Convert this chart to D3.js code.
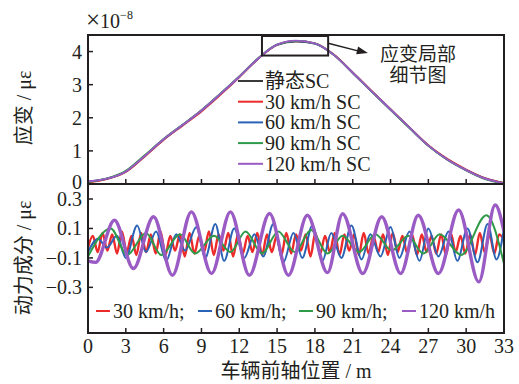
<!DOCTYPE html>
<html><head><meta charset="utf-8">
<script src="https://cdn.jsdelivr.net/npm/d3@7"></script>
<style>
body{margin:0;background:#fff}
svg{display:block}
text{fill:#231f20}
</style>
</head><body><svg id="c" width="519" height="384"></svg>
<script>
// ---- data ----
const xTicks = [0,3,6,9,12,15,18,21,24,27,30,33];
const topYTicks = [0,1,2,3,4];
const botYTicks = [0.3,0.1,-0.1,-0.3];
const botYTickLabels = ["0.3","0.1","\u22120.1","\u22120.3"];

// quasi-static strain (×10^-8) vs front-axle position
const posTop  = [0,1.5,3,4.5,6,7.5,9,10.5,12,13.5,15,16.5,18,19.5,21,22.5,24,25.5,27,28.5,30,31.5,33];
const strainStatic = [0.06,0.16,0.38,0.85,1.35,1.78,2.22,2.72,3.24,3.79,4.20,4.30,4.24,3.90,3.36,2.80,2.25,1.70,1.16,0.74,0.42,0.17,0.03];
const strain30  = [0.05,0.15,0.36,0.83,1.33,1.76,2.19,2.69,3.22,3.78,4.20,4.32,4.25,3.91,3.37,2.81,2.26,1.71,1.17,0.76,0.44,0.18,0.03];
const strain60  = [0.07,0.16,0.38,0.85,1.35,1.78,2.22,2.72,3.24,3.79,4.21,4.32,4.24,3.90,3.36,2.80,2.25,1.70,1.16,0.74,0.42,0.16,0.02];
const strain90  = [0.06,0.17,0.40,0.87,1.36,1.79,2.23,2.73,3.25,3.80,4.21,4.32,4.25,3.90,3.35,2.79,2.24,1.69,1.15,0.73,0.41,0.15,0.02];
const strain120 = [0.08,0.16,0.38,0.85,1.35,1.78,2.22,2.72,3.24,3.79,4.21,4.33,4.25,3.90,3.36,2.80,2.25,1.70,1.16,0.74,0.42,0.16,0.02];

// dynamic component (με): extrema [position m, value]
const dyn120 = [[0,-0.12],[0.6,-0.13],[2.1,0.156],[3.6,-0.172],[5.2,0.18],[6.7,-0.218],[8.2,0.213],[9.8,-0.206],[11.3,0.213],[12.8,-0.218],[14.4,0.202],[15.9,-0.218],[17.4,0.19],[19.0,-0.20],[20.2,0.20],[21.8,-0.206],[23.3,0.18],[24.8,-0.206],[26.2,0.19],[27.8,-0.206],[29.4,0.225],[31.0,-0.263],[32.3,0.259],[33,0.08]];
const dyn90 = [[0,-0.09],[1.8,0.10],[3.1,-0.08],[4.6,0.07],[5.8,-0.08],[7.3,0.06],[8.5,-0.07],[10.0,0.05],[11.3,-0.06],[12.5,0.08],[13.8,-0.07],[15.1,0.08],[16.4,-0.06],[17.7,0.09],[19.0,-0.07],[20.2,0.05],[21.5,-0.06],[22.8,0.06],[24.1,-0.05],[25.4,0.05],[26.6,-0.07],[27.9,0.06],[29.6,-0.08],[31.6,0.19],[33,-0.14]];
const dyn60 = [[0,-0.06],[0.8,0.03],[1.5,-0.03],[2.3,0.05],[3.0,-0.10],[3.9,0.12],[4.6,-0.06],[5.4,0.08],[6.2,-0.12],[7.0,0.06],[7.7,-0.05],[8.6,0.11],[9.3,-0.10],[10.1,0.13],[10.8,-0.12],[11.6,0.10],[12.4,-0.10],[13.2,0.06],[13.9,-0.09],[14.7,0.13],[15.5,-0.13],[16.3,0.07],[17.0,-0.10],[17.8,0.12],[18.6,-0.12],[19.3,0.07],[20.1,-0.10],[20.9,0.12],[21.7,-0.11],[22.4,0.06],[23.2,-0.09],[24.0,0.11],[24.7,-0.10],[25.5,0.08],[26.3,-0.12],[27.0,0.10],[27.8,-0.09],[28.6,0.08],[29.3,-0.12],[30.1,0.10],[30.9,-0.13],[31.7,0.13],[32.4,-0.11],[33,0.10]];
const red30 = [-0.03,0.05,-0.06,0.07,-0.05,0.06,-0.07,0.08,-0.06,0.05,-0.08,0.07,-0.06,0.06,-0.07,0.08,-0.08,0.05,-0.05,0.06,-0.09,0.07,-0.07,0.05,-0.06,0.08,-0.08,0.06,-0.05,0.07,-0.09,0.06,-0.07,0.05,-0.06,0.07,-0.08,0.06,-0.06,0.05,-0.08,0.07,-0.07,0.06,-0.05,0.06,-0.09,0.07,-0.07,0.05,-0.06,0.07,-0.08,0.06,-0.05,0.06,-0.08,0.07,-0.07,0.05,-0.06,0.06,-0.08,0.07,-0.06,0.05,-0.07,0.06,-0.08,0.06,-0.06,0.05,-0.07,0.06,-0.08,0.07,-0.06,0.05,-0.07,0.06,-0.08,0.07,-0.06,0.06,-0.07,0.06,0.02];
const red30Step = 33 / (red30.length - 1);

const topLegend = ["静态SC","30 km/h SC","60 km/h SC","90 km/h SC","120 km/h SC"];
const botLegend = ["30 km/h;","60 km/h;","90 km/h;","120 km/h"];
const colors = {st:"#3a3a3a", r:"#ed2a2a", b:"#2a62b5", g:"#2f9a48", p:"#9a5cc4"};

// ---- layout ----
const svg = d3.select("#c");
const L = 88, R = 504, T1 = 35, B1 = 184, B2 = 333;
const serif = "'Liberation Serif','Times New Roman',serif";
const cjk = "'Noto Sans CJK SC','Noto Sans CJK JP',sans-serif";
const ink = "#231f20";

const x = d3.scaleLinear().domain([0,33]).range([L,R]);
const yTop = d3.scaleLinear().domain([0,4.5]).range([B1,T1]);
const yBot = d3.scaleLinear().domain([-0.61,0.402]).range([B2,B1]);

// ---- top panel curves ----
const lineTop = d3.line().x((d,i)=>x(posTop[i])).y(d=>yTop(d)).curve(d3.curveMonotoneX);
const topSeries = [[strainStatic,colors.st],[strain30,colors.r],[strain60,colors.b],[strain90,colors.g],[strain120,colors.p]];
topSeries.forEach(([s,c])=>{
  svg.append("path").attr("d",lineTop(s)).attr("fill","none").attr("stroke",c).attr("stroke-width",1.8);
});

// ---- bottom panel curves ----
svg.append("clipPath").attr("id","cb").append("rect")
  .attr("x",L).attr("y",B1).attr("width",R-L).attr("height",B2-B1);
const lineXY = d3.line().x(d=>x(d[0])).y(d=>yBot(d[1])).curve(d3.curveMonotoneX);
const gB = svg.append("g").attr("clip-path","url(#cb)");
gB.append("path").attr("d",lineXY(red30.map((v,i)=>[i*red30Step,v]))).attr("fill","none").attr("stroke",colors.r).attr("stroke-width",2.4);
gB.append("path").attr("d",lineXY(dyn60)).attr("fill","none").attr("stroke",colors.b).attr("stroke-width",2);
gB.append("path").attr("d",lineXY(dyn90)).attr("fill","none").attr("stroke",colors.g).attr("stroke-width",2);
gB.append("path").attr("d",lineXY(dyn120)).attr("fill","none").attr("stroke",colors.p).attr("stroke-width",3.4);

// ---- frame & ticks ----
const frame = svg.append("g").attr("stroke",ink).attr("stroke-width",2).attr("fill","none");
frame.append("rect").attr("x",L).attr("y",T1).attr("width",R-L).attr("height",B2-T1);
frame.append("line").attr("x1",L).attr("x2",R).attr("y1",B1).attr("y2",B1);

const tk = svg.append("g").attr("stroke",ink).attr("stroke-width",1.5);
xTicks.slice(1,-1).forEach(v=>{
  tk.append("line").attr("x1",x(v)).attr("x2",x(v)).attr("y1",B1).attr("y2",B1-5);
  tk.append("line").attr("x1",x(v)).attr("x2",x(v)).attr("y1",B2).attr("y2",B2-5);
});
topYTicks.slice(1).forEach(v=>{
  tk.append("line").attr("x1",L).attr("x2",L+5).attr("y1",yTop(v)).attr("y2",yTop(v));
});
botYTicks.forEach(v=>{
  tk.append("line").attr("x1",L).attr("x2",L+5).attr("y1",yBot(v)).attr("y2",yBot(v));
});

// ---- tick labels ----
const fs = 20;
topYTicks.forEach(v=>{
  svg.append("text").attr("x",82).attr("y",yTop(v)+(v===0?5:7)).attr("text-anchor","end")
    .attr("font-family",serif).attr("font-size",fs).text(v);
});
botYTicks.forEach((v,i)=>{
  svg.append("text").attr("x",82).attr("y",yBot(v)+7).attr("text-anchor","end")
    .attr("font-family",serif).attr("font-size",fs).text(botYTickLabels[i]);
});
xTicks.forEach(v=>{
  svg.append("text").attr("x",x(v)).attr("y",353).attr("text-anchor","middle")
    .attr("font-family",serif).attr("font-size",fs).text(v);
});

// exponent
const ex = svg.append("text").attr("x",86).attr("y",28).attr("font-family",serif).attr("font-size",fs);
ex.append("tspan").attr("font-size",25).text("\u00d7");
ex.append("tspan").text("10");
ex.append("tspan").attr("dy",-9).attr("font-size",12).text("\u22128");

// axis titles
function mixed(sel, parts){
  parts.forEach(([t,f])=>sel.append("tspan").attr("font-family",f).text(t));
}
const t1 = svg.append("text").attr("transform","translate(31,108) rotate(-90)")
  .attr("text-anchor","middle").attr("font-size",fs);
mixed(t1,[["应变",cjk],[" / με",serif]]);
const t2 = svg.append("text").attr("transform","translate(31,258) rotate(-90)")
  .attr("text-anchor","middle").attr("font-size",fs);
mixed(t2,[["动力成分",cjk],[" / με",serif]]);
const t3 = svg.append("text").attr("x",296).attr("y",378)
  .attr("text-anchor","middle").attr("font-size",fs);
mixed(t3,[["车辆前轴位置",cjk],[" / m",serif]]);

// ---- top legend ----
const legColors = [colors.st,colors.r,colors.b,colors.g,colors.p];
topLegend.forEach((lab,i)=>{
  const yy = 81 + i*20.7;
  svg.append("line").attr("x1",238).attr("x2",263).attr("y1",yy).attr("y2",yy)
    .attr("stroke",legColors[i]).attr("stroke-width",2);
  const t = svg.append("text").attr("x",265).attr("y",yy+7).attr("font-size",fs);
  if(i===0){ mixed(t,[["静态",cjk],["SC",serif]]); }
  else { t.attr("font-family",serif).text(lab); }
});

// ---- bottom legend ----
const botLegX = [96,198,299,402];
const botLegC = [colors.r,colors.b,colors.g,colors.p];
botLegend.forEach((lab,i)=>{
  const yy = 311;
  svg.append("line").attr("x1",botLegX[i]).attr("x2",botLegX[i]+14).attr("y1",yy).attr("y2",yy)
    .attr("stroke",botLegC[i]).attr("stroke-width",2);
  svg.append("text").attr("x",botLegX[i]+17).attr("y",yy+7).attr("font-family",serif)
    .attr("font-size",fs).text(lab);
});

// ---- detail callout ----
const boxX0 = 13.8, boxX1 = 19.05, boxY0 = 3.88, boxY1 = 4.47;
svg.append("rect").attr("x",x(boxX0)).attr("y",yTop(boxY1))
  .attr("width",x(boxX1)-x(boxX0)).attr("height",yTop(boxY0)-yTop(boxY1))
  .attr("fill","none").attr("stroke",ink).attr("stroke-width",2);
const ax0 = x(boxX1), ay0 = yTop(4.25), ax1 = x(22.2), ay1 = yTop(3.96);
svg.append("line").attr("x1",ax0).attr("y1",ay0).attr("x2",ax1-8).attr("y2",ay1-1.5)
  .attr("stroke",ink).attr("stroke-width",1.5);
const ang = Math.atan2(ay1-ay0, ax1-ax0);
const hp = [[ax1,ay1],[ax1-11*Math.cos(ang)+4*Math.sin(ang), ay1-11*Math.sin(ang)-4*Math.cos(ang)],
            [ax1-11*Math.cos(ang)-4*Math.sin(ang), ay1-11*Math.sin(ang)+4*Math.cos(ang)]];
svg.append("path").attr("d","M"+hp.map(p=>p.join(",")).join("L")+"Z").attr("fill",ink);
// two-line caption as one text block
const cap = svg.append("text").attr("text-anchor","middle")
  .attr("font-family",cjk).attr("font-size",19);
cap.append("tspan").attr("x",418).attr("y",61).text("应变局部");
cap.append("tspan").attr("x",418).attr("dy",21).text("细节图");
</script></body></html>
